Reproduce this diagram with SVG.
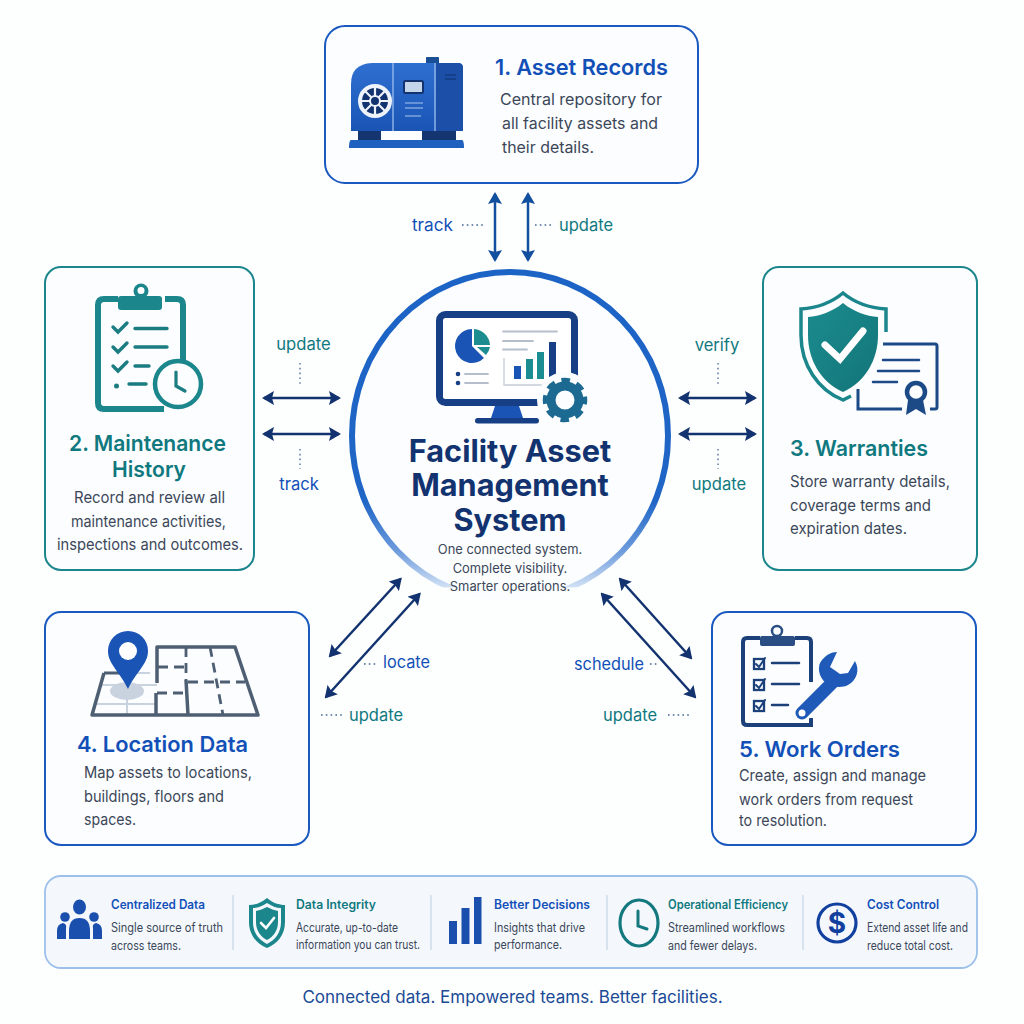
<svg xmlns="http://www.w3.org/2000/svg" width="1024" height="1024" viewBox="0 0 1024 1024">
<style>
text{font-family:"Inter","Liberation Sans",sans-serif}
.box{fill:#fbfdfe;stroke-width:2}
.bl{stroke:#1a5ac0}.te{stroke:#1b868c}
.t{font-size:22px;font-weight:600}
.tb{fill:#1250b8}.tt{fill:#10797f}
.b{font-size:16px;fill:#3b4759}
.s{font-size:15px;fill:#3b4759}
.lb{font-size:16.600px}
.ar{fill:none;stroke:#12336f;stroke-width:2.5;marker-start:url(#h);marker-end:url(#h)}
.av{fill:none;stroke:#124f9e;stroke-width:2.5;marker-start:url(#hv);marker-end:url(#hv)}
.dt{fill:none;stroke:#47699a;stroke-width:1.3;stroke-dasharray:1.6 3.2}
.pt{font-size:12.500px;font-weight:600}
.pb{font-size:12.500px;fill:#3b4759}
.sep{stroke:#c6d6e8;stroke-width:1.2}
.ln{fill:none;stroke-linecap:round}
</style>
<defs>
<marker id="h" viewBox="0 0 12 14" refX="10" refY="7" markerWidth="12" markerHeight="14" markerUnits="userSpaceOnUse" orient="auto-start-reverse"><path d="M0 0L12 7L0 14L2 7Z" fill="#12336f"/></marker>
<marker id="hv" viewBox="0 0 12 14" refX="10" refY="7" markerWidth="12" markerHeight="14" markerUnits="userSpaceOnUse" orient="auto-start-reverse"><path d="M0 0L12 7L0 14L2 7Z" fill="#124f9e"/></marker>
<linearGradient id="ring" gradientUnits="userSpaceOnUse" x1="0" y1="272" x2="0" y2="600"><stop offset="0" stop-color="#1c63c6"/><stop offset=".7" stop-color="#1f66c6"/><stop offset=".85" stop-color="#6d9bdc"/><stop offset=".96" stop-color="#cfe0f4"/><stop offset=".965" stop-color="#fff" stop-opacity="0"/></linearGradient>
<linearGradient id="gen" x1="0" y1="0" x2="0" y2="1"><stop offset="0" stop-color="#2f6fd0"/><stop offset="1" stop-color="#1a55b5"/></linearGradient>
<linearGradient id="shi" x1="0" y1="0" x2="1" y2="1"><stop offset="0" stop-color="#1b8c8f"/><stop offset="1" stop-color="#137478"/></linearGradient>
</defs>
<rect width="1024" height="1024" fill="#fdfefe"/>

<g id="connectors">
<path class="av" d="M495 194V260"/><path class="av" d="M528 194V260"/>
<path class="dt" d="M462 225H484"/><path class="dt" d="M535 225H554"/>
<text class="lb tb" x="412" y="231" textLength="41" lengthAdjust="spacingAndGlyphs">track</text><text class="lb tt" x="559" y="231" textLength="54" lengthAdjust="spacingAndGlyphs">update</text>
<path class="ar" d="M264 398H339"/><path class="ar" d="M264 434H339"/>
<path class="dt" d="M300 363V384"/><path class="dt" d="M300 449V469"/>
<text class="lb tt" x="303.500" y="350" text-anchor="middle">update</text><text class="lb tb" x="299" y="490" text-anchor="middle">track</text>
<path class="ar" d="M680 398H755"/><path class="ar" d="M680 434H755"/>
<path class="dt" d="M718 363V384"/><path class="dt" d="M718 449V469"/>
<text class="lb tt" x="717" y="351" text-anchor="middle">verify</text><text class="lb tt" x="719" y="490" text-anchor="middle">update</text>
<path class="ar" d="M400.500 579L330 656"/><path class="ar" d="M419.500 594L326 697"/>
<path class="dt" d="M364 664H377"/><path class="dt" d="M321 715H342"/>
<text class="lb tb" x="383" y="668" textLength="47" lengthAdjust="spacingAndGlyphs">locate</text><text class="lb tt" x="349" y="721" textLength="54" lengthAdjust="spacingAndGlyphs">update</text>
<path class="ar" d="M620 579L691 658"/><path class="ar" d="M602 594L695 697"/>
<path class="dt" d="M650 664H658"/><path class="dt" d="M668 715H689"/>
<text class="lb tb" x="574" y="670" textLength="70" lengthAdjust="spacingAndGlyphs">schedule</text><text class="lb tt" x="603" y="721" textLength="54" lengthAdjust="spacingAndGlyphs">update</text>
</g>

<g id="hub">
<ellipse cx="510" cy="436" rx="158" ry="164" fill="#fbfdfe" stroke="url(#ring)" stroke-width="6"/>
<rect x="439.500" y="314.500" width="135" height="88" rx="6" fill="#fff" stroke="#163f85" stroke-width="7"/>
<path d="M495 406H519L523 418H491Z" fill="#1a54b5"/><rect x="475" y="418" width="64" height="5.500" rx="2.700" fill="#163f85"/>
<path d="M472 329V346L484 358A17 17 0 1 1 472 329Z" fill="#1a54b5"/>
<path d="M474 329A17 17 0 0 1 490 345H474Z" fill="#1b8c8f"/><path d="M477 347H490A17 17 0 0 1 486 355Z" fill="#1b8c8f"/>
<g class="ln" stroke="#b5bfcc" stroke-width="1.800"><path d="M503 331.500H557M503 341H533M503 349.500H527M465 374H488M465 383H488"/></g>
<path d="M504 358V385H545" fill="none" stroke="#c5cdd8" stroke-width="1.300"/>
<circle cx="458" cy="374" r="2.300" fill="#163f85"/><circle cx="458" cy="383" r="2.300" fill="#163f85"/>
<rect x="514" y="366" width="7" height="13" fill="#1a54b5"/><rect x="526" y="359" width="7" height="20" fill="#1b8c8f"/><rect x="537" y="352" width="7" height="27" fill="#1b8c8f"/><rect x="549" y="342" width="7" height="37" fill="#163f85"/>
<circle cx="565" cy="400" r="28" fill="#fbfdfe"/>
<circle cx="565" cy="400" r="14" fill="none" stroke="#1c6a92" stroke-width="9"/>
<circle cx="565" cy="400" r="19.500" fill="none" stroke="#1c6a92" stroke-width="5.500" stroke-dasharray="8.500 6.820" stroke-dashoffset="4.200"/>
<g font-size="30.700" font-weight="700" fill="#12336f" text-anchor="middle">
<text x="510" y="462">Facility Asset</text><text x="510" y="496">Management</text><text x="510" y="531">System</text></g>
<g font-size="12.900" fill="#3b4759" text-anchor="middle">
<text x="510" y="554">One connected system.</text><text x="510" y="573">Complete visibility.</text><text x="510" y="591">Smarter operations.</text></g>
</g>

<g id="node1">
<rect class="box bl" x="325" y="26" width="373" height="157" rx="20"/>
<rect x="426" y="57" width="13" height="7" rx="1" fill="#1a4f96"/>
<path d="M351 131V84Q351 64 372 63H458Q463 63 463 68V131Z" fill="url(#gen)"/>
<path d="M436 63H458Q463 63 463 68V131H436Z" fill="#1c4fa8"/>
<path d="M393 63V131M435 63V131" stroke="#9dbdec" stroke-width="1.300"/>
<rect x="358" y="131" width="23" height="9" fill="#14356f"/><rect x="422" y="131" width="34" height="9" fill="#14356f"/>
<path d="M351 140H462Q464 140 464 148H349Q349 140 351 140Z" fill="#2061bf"/>
<circle cx="375" cy="101" r="15" fill="#12336f" stroke="#eef3fb" stroke-width="4"/>
<g stroke="#eef3fb" stroke-width="2.200"><path d="M375 86V116M360 101H390M364.500 90.500L385.500 111.500M364.500 111.500L385.500 90.500"/></g>
<circle cx="375" cy="101" r="5" fill="#12336f" stroke="#eef3fb" stroke-width="2"/>
<rect x="404" y="81" width="19" height="12" rx="1.500" fill="#c6d6ea" stroke="#12336f" stroke-width="2"/>
<path d="M405 103H423M405 108H423M405 116H421" stroke="#7ea4de" stroke-width="1.300"/>
<path d="M445 75H456M445 79H456" stroke="#12336f" stroke-width="1.500" opacity=".7"/>
<text class="t tb" x="495" y="75" textLength="173" lengthAdjust="spacingAndGlyphs">1. Asset Records</text>
<text class="b" x="500" y="105" textLength="162" lengthAdjust="spacingAndGlyphs">Central repository for</text><text class="b" x="502" y="129" textLength="156" lengthAdjust="spacingAndGlyphs">all facility assets and</text><text class="b" x="502" y="153" textLength="92" lengthAdjust="spacingAndGlyphs">their details.</text>
</g>

<g id="node2">
<rect class="box te" x="45" y="267" width="209" height="303" rx="16"/>
<path d="M118 299H104Q98 299 98 305V403Q98 409 104 409H164M165 299H177Q183 299 183 305V362" fill="none" stroke="#1b868c" stroke-width="6"/>
<rect x="118" y="296" width="44" height="14" rx="3" fill="#1b868c"/><circle cx="141" cy="291" r="7.500" fill="#1b868c"/><circle cx="141" cy="290.500" r="3.500" fill="#fff"/>
<g class="ln" stroke="#1b7c82" stroke-width="3.400"><path d="M113 327L118 332L127 323M113 347L118 352L127 343M113 366L118 371L127 362"/><path d="M135 328.500H167M135 347H167M135 366H149M129 384H146"/></g>
<circle cx="116.500" cy="386" r="2.500" fill="#1b7c82"/>
<circle cx="178" cy="384" r="23" fill="#fbfdfe" stroke="#1b868c" stroke-width="4.500"/>
<path class="ln" d="M176 372V386L185 391" stroke="#1b7c82" stroke-width="3.200"/>
<text class="t tt" x="69" y="451" textLength="157" lengthAdjust="spacingAndGlyphs">2. Maintenance</text><text class="t tt" x="112" y="477" textLength="74" lengthAdjust="spacingAndGlyphs">History</text>
<text class="b" x="74" y="503" textLength="151" lengthAdjust="spacingAndGlyphs">Record and review all</text><text class="b" x="71" y="527" textLength="155" lengthAdjust="spacingAndGlyphs">maintenance activities,</text><text class="b" x="57" y="550" textLength="186" lengthAdjust="spacingAndGlyphs">inspections and outcomes.</text>
</g>

<g id="node3">
<rect class="box te" x="763" y="267" width="214" height="303" rx="16"/>
<path d="M858 389V409H902M930 409H935Q937 409 937 407V346Q937 344 935 344H883" fill="none" stroke="#1c4a86" stroke-width="3"/>
<path class="ln" d="M883 360H919M878 371H919M873 382H897" stroke="#1c4a86" stroke-width="2.500"/>
<path d="M908 400L906 415L916 409L926 415L923 400Z" fill="#1c4a86"/>
<circle cx="916" cy="392" r="9" fill="#fbfdfe" stroke="#1c4a86" stroke-width="4.500"/>
<path d="M886 332V309C870 308 855 303 843 293C831 303 816 308 801 309V335C801 365 818 390 843 400L851 396" fill="none" stroke="#1b868c" stroke-width="3.500"/>
<path d="M843 303C854 312 866 316 878 317V335C878 360 865 382 843 392C821 382 808 360 808 335V317C820 316 832 312 843 303Z" fill="url(#shi)"/>
<path class="ln" d="M825 345L840 359L863 331" stroke="#fff" stroke-width="7"/>
<text class="t tt" x="790" y="456" textLength="138" lengthAdjust="spacingAndGlyphs">3. Warranties</text>
<text class="b" x="790" y="487" textLength="160" lengthAdjust="spacingAndGlyphs">Store warranty details,</text><text class="b" x="790" y="511" textLength="141" lengthAdjust="spacingAndGlyphs">coverage terms and</text><text class="b" x="790" y="534" textLength="117" lengthAdjust="spacingAndGlyphs">expiration dates.</text>
</g>

<g id="node4">
<rect class="box bl" x="45" y="612" width="264" height="233" rx="16"/>
<path d="M100 685H157M96 704H155M127 692V715M104 673H150" fill="none" stroke="#c9d3df" stroke-width="2"/>
<ellipse cx="127" cy="691" rx="17" ry="9" fill="#c9d3df"/>
<path d="M157 673V647H235L258 715H92L104 673M157 647V683M156 693V715M186 680L188 715" fill="none" stroke="#4f5f73" stroke-width="3.500" stroke-linejoin="round"/>
<path d="M104 673H135" fill="none" stroke="#4f5f73" stroke-width="3"/>
<path d="M158 667H186M186 647V680M210 647L223 715M188 682H245M157 693H186" fill="none" stroke="#4f5f73" stroke-width="2.800" stroke-dasharray="10 6"/>
<path d="M128 689C120 672 108 664 108 651A20 20 0 0 1 148 651C148 664 136 672 128 689Z" fill="#1a54b5"/><circle cx="128" cy="651" r="9" fill="#fff"/>
<text class="t tb" x="77" y="752" textLength="171" lengthAdjust="spacingAndGlyphs">4. Location Data</text>
<text class="b" x="84" y="778" textLength="168" lengthAdjust="spacingAndGlyphs">Map assets to locations,</text><text class="b" x="84" y="802" textLength="140" lengthAdjust="spacingAndGlyphs">buildings, floors and</text><text class="b" x="84" y="825" textLength="52" lengthAdjust="spacingAndGlyphs">spaces.</text>
</g>

<g id="node5">
<rect class="box bl" x="712" y="612" width="264" height="233" rx="16"/>
<path d="M760 638H747Q743 638 743 642V721Q743 725 747 725H811V718M795 638H807Q811 638 811 642V682" fill="none" stroke="#1c4079" stroke-width="4"/>
<rect x="760" y="636" width="35" height="10" rx="2" fill="#2a4d84"/><circle cx="777" cy="631" r="5" fill="none" stroke="#2a4d84" stroke-width="2.500"/>
<g fill="none" stroke="#1c4079" stroke-width="2.300"><rect x="754" y="659" width="10" height="10"/><rect x="754" y="680" width="10" height="10"/><rect x="754" y="701" width="10" height="10"/></g>
<path class="ln" d="M756 664L759 667L765 658M756 685L759 688L765 679M756 706L759 709L765 700" stroke="#1c4079" stroke-width="2"/>
<path class="ln" d="M772 663H799M772 684H799M772 705H788" stroke="#1c4079" stroke-width="2.500"/>
<path d="M802 713L833 682" fill="none" stroke="#fbfdfe" stroke-width="18" stroke-linecap="round"/>
<path d="M802 713L833 682" fill="none" stroke="#1f5ab8" stroke-width="13" stroke-linecap="round"/>
<path d="M837 652L830 667L840 674L848 673L855 661C860 670 857 680 848 685C840 689 830 686 826 683C818 677 817 665 822 660C826 655 831 652 837 652Z" fill="#1f5ab8"/>
<circle cx="802" cy="713" r="3.500" fill="#fff"/>
<text class="t tb" x="739" y="757" textLength="161" lengthAdjust="spacingAndGlyphs">5. Work Orders</text>
<text class="b" x="739" y="781" textLength="187" lengthAdjust="spacingAndGlyphs">Create, assign and manage</text><text class="b" x="739" y="805" textLength="174" lengthAdjust="spacingAndGlyphs">work orders from request</text><text class="b" x="739" y="826" textLength="88" lengthAdjust="spacingAndGlyphs">to resolution.</text>
</g>

<g id="benefits">
<rect x="45" y="876" width="932" height="92" rx="16" fill="#f4f8fd" stroke="#9cc0ea" stroke-width="1.800"/>
<path class="sep" d="M233 895V950M431 895V950M607 895V950M803 895V950"/>
<g id="b1" fill="#1a4fae">
<ellipse cx="79.500" cy="907" rx="6.500" ry="7.500"/><circle cx="65" cy="917" r="4.800"/><circle cx="94" cy="917" r="4.800"/>
<path d="M69 939V931Q69 918 79.500 918Q90 918 90 931V939Z"/><path d="M57 939V931Q57 924 63 923Q67 924 66 928V939Z"/><path d="M102 939V931Q102 924 96 923Q92 924 93 928V939Z"/>
<text class="pt tb" x="111" y="909" textLength="94" lengthAdjust="spacingAndGlyphs">Centralized Data</text><text class="pb" x="111" y="932" textLength="112" lengthAdjust="spacingAndGlyphs">Single source of truth</text><text class="pb" x="111" y="950" textLength="70" lengthAdjust="spacingAndGlyphs">across teams.</text></g>
<g id="b2">
<path d="M267 898C273 903 279 905 285 905V922C285 935 277 944 267 948C257 944 249 935 249 922V905C255 905 261 903 267 898Z" fill="#1b868c"/>
<path d="M267 903C272 906 276 908 281 908V922C281 933 275 940 267 944C259 940 253 933 253 922V908C258 908 262 906 267 903Z" fill="#f4f8fd"/>
<path d="M267 907C271 909 274 910 278 911V922C278 931 273 937 267 940C261 937 256 931 256 922V911C260 910 263 909 267 907Z" fill="#1b868c"/>
<path class="ln" d="M261 923L266 928L274 918" stroke="#fff" stroke-width="2.600"/>
<text class="pt tt" x="296" y="909" textLength="80" lengthAdjust="spacingAndGlyphs">Data Integrity</text><text class="pb" x="296" y="932" textLength="102" lengthAdjust="spacingAndGlyphs">Accurate, up-to-date</text><text class="pb" x="296" y="949" textLength="124" lengthAdjust="spacingAndGlyphs">information you can trust.</text></g>
<g id="b3" fill="#1a4fae">
<rect x="449" y="921" width="8" height="23"/><rect x="461.500" y="908" width="8" height="36"/><rect x="474" y="897" width="7.500" height="47"/>
<text class="pt tb" x="494" y="909" textLength="96" lengthAdjust="spacingAndGlyphs">Better Decisions</text><text class="pb" x="494" y="932" textLength="91" lengthAdjust="spacingAndGlyphs">Insights that drive</text><text class="pb" x="494" y="949" textLength="68" lengthAdjust="spacingAndGlyphs">performance.</text></g>
<g id="b4">
<ellipse cx="639" cy="923" rx="19" ry="23" fill="none" stroke="#14797f" stroke-width="3.200"/>
<path class="ln" d="M638 911V926L647 929" stroke="#14797f" stroke-width="3"/>
<text class="pt tt" x="668" y="909" textLength="120" lengthAdjust="spacingAndGlyphs">Operational Efficiency</text><text class="pb" x="668" y="932" textLength="117" lengthAdjust="spacingAndGlyphs">Streamlined workflows</text><text class="pb" x="668" y="950" textLength="89" lengthAdjust="spacingAndGlyphs">and fewer delays.</text></g>
<g id="b5">
<circle cx="837" cy="923" r="19" fill="none" stroke="#12409f" stroke-width="3.200"/>
<text x="837" y="933" text-anchor="middle" font-size="28" font-weight="700" fill="#12409f">$</text>
<text class="pt tb" x="867" y="909" textLength="72" lengthAdjust="spacingAndGlyphs">Cost Control</text><text class="pb" x="867" y="932" textLength="101" lengthAdjust="spacingAndGlyphs">Extend asset life and</text><text class="pb" x="867" y="950" textLength="86" lengthAdjust="spacingAndGlyphs">reduce total cost.</text></g>
</g>
<text x="512.500" y="1003" text-anchor="middle" font-size="17" fill="#1a4a96">Connected data. Empowered teams. Better facilities.</text>
</svg>
